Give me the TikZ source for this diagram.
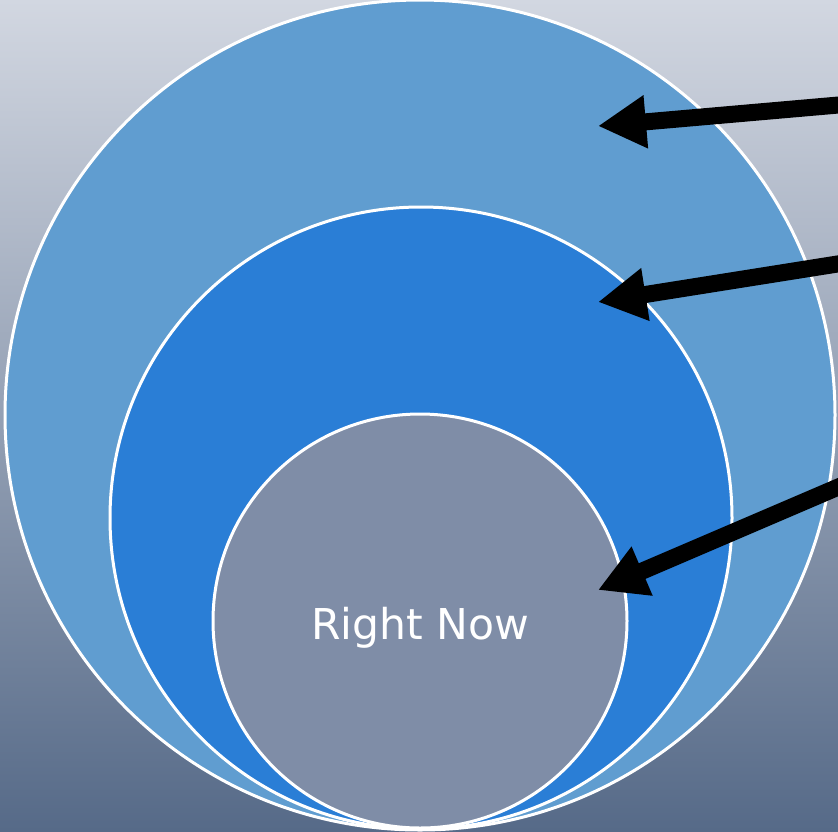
\documentclass[tikz,border=0pt]{standalone}
\usepackage{fontspec}
\setmainfont{DejaVu Sans}
\usetikzlibrary{arrows.meta}
\definecolor{bgtop}{RGB}{210,215,225}
\definecolor{bgbot}{RGB}{86,106,136}
\definecolor{outerc}{RGB}{96,157,208}
\definecolor{midc}{RGB}{42,126,214}
\definecolor{innerc}{RGB}{127,141,167}
\tikzset{
  ring/.style={draw=white, line width=3pt},
  pointer/.style={line width=17pt, -{Triangle[length=48pt,width=50pt]}, black}
}
\begin{document}
\begin{tikzpicture}[x=1pt,y=-1pt]
\useasboundingbox (0,0) rectangle (838,831);
\clip (0,0) rectangle (838,831);
\shade[top color=bgtop, bottom color=bgbot] (0,0) rectangle (838,831);
\node[ring, circle, fill=outerc, minimum size=830pt, inner sep=0pt] (outer) at (420,415) {};
\node[ring, circle, fill=midc, minimum size=622pt, inner sep=0pt] (mid) at (421,518) {};
\node[ring, circle, fill=innerc, minimum size=414pt, inner sep=0pt] (inner) at (420,621) {};
\node[text=white, font=\fontsize{42.5}{50}\selectfont] (lbl) at (420,628) {Right Now};
\coordinate (s1) at (850,104);
\coordinate (t1) at (598,126);
\coordinate (s2) at (850,262);
\coordinate (t2) at (598,302);
\coordinate (s3) at (850,482);
\coordinate (t3) at (598,590);
\draw[pointer] (s1) -- (t1);
\draw[pointer] (s2) -- (t2);
\draw[pointer] (s3) -- (t3);
\end{tikzpicture}
\end{document}
